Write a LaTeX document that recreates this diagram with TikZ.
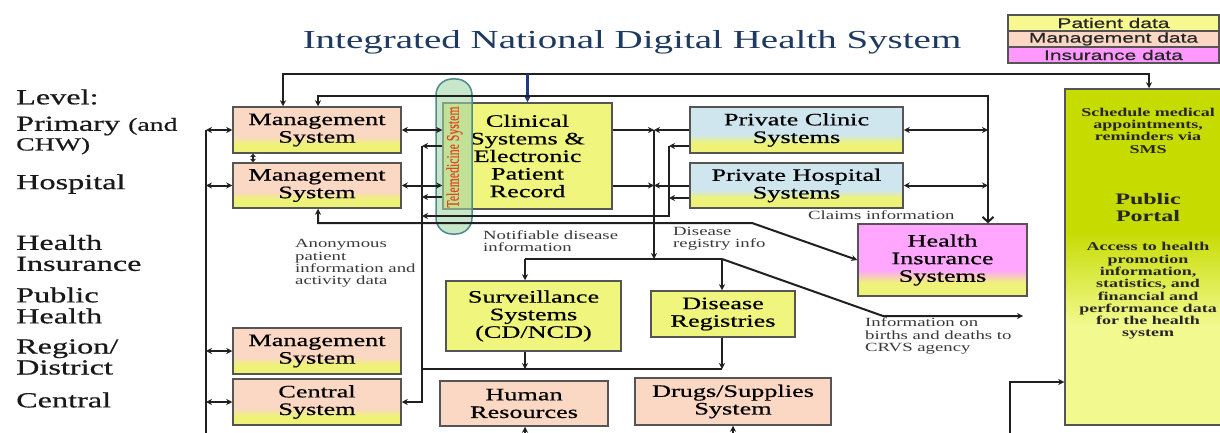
\documentclass[tikz,border=0pt]{standalone}
\usepackage{fontspec}
\usepackage{graphicx}
\setmainfont{Liberation Serif}[FakeStretch=1.5]
\newfontfamily\heavyserif{Liberation Serif}[FakeStretch=1.5, FakeBold=0.6]
\newfontfamily\plainserif{Liberation Serif}[FakeBold=0.4]
\newfontfamily\legendfont{Liberation Sans}[FakeStretch=1.5, FakeBold=0.6]
\usetikzlibrary{arrows.meta,calc}
\definecolor{lineclr}{HTML}{202020}
\definecolor{boxborder}{HTML}{555555}
\definecolor{peach}{HTML}{FBD8C3}
\definecolor{ylw}{HTML}{EEF378}
\definecolor{clinylw}{HTML}{F0F57E}
\definecolor{pblue}{HTML}{CFE6EE}
\definecolor{pink}{HTML}{FFA6FF}
\definecolor{portalgreen}{HTML}{C6DB00}
\definecolor{portallight}{HTML}{F2F98E}
\definecolor{legylw}{HTML}{F8F890}
\definecolor{legpeach}{HTML}{FCD8C4}
\definecolor{legpink}{HTML}{FF99FF}
\definecolor{telegreen}{HTML}{A3D6A6}
\definecolor{teleborder}{HTML}{4E8B8E}
\definecolor{telered}{HTML}{E5431C}
\definecolor{titleblue}{HTML}{1F3A60}
\definecolor{arrowblue}{HTML}{1F3A80}
\definecolor{lbltext}{HTML}{383838}
\pgfdeclareverticalshading{mgmtsh}{100bp}{color(0bp)=(ylw); color(35bp)=(ylw); color(43bp)=(peach); color(100bp)=(peach)}
\pgfdeclareverticalshading{privsh}{100bp}{color(0bp)=(ylw); color(36bp)=(ylw); color(45bp)=(pblue); color(100bp)=(pblue)}
\pgfdeclareverticalshading{insh}{100bp}{color(0bp)=(ylw); color(34bp)=(ylw); color(43bp)=(pink); color(100bp)=(pink)}
\pgfdeclareverticalshading{portsh}{100bp}{color(0bp)=(portallight); color(40bp)=(portallight); color(54bp)=(portalgreen); color(100bp)=(portalgreen)}
\newcommand\boxfnt{\heavyserif\fontsize{17.5}{17.6}\selectfont}
\newcommand\lvlfnt{\heavyserif\fontsize{21.5}{21}\selectfont}
\newcommand\smallfnt{\fontsize{18.5}{19}\selectfont}
\newcommand\lblfnt{\fontsize{12.5}{12.2}\selectfont}
\newcommand\ptxtfnt{\fontsize{12}{12.3}\selectfont\bfseries}
\tikzset{
  box/.style={draw=boxborder, line width=1.5pt, inner sep=0pt, align=center, font=\boxfnt, text=black},
  mgmt/.style={box, shading=mgmtsh},
  priv/.style={box, shading=privsh},
  ins/.style={box, shading=insh},
  clinbox/.style={box, fill=clinylw},
  peachbox/.style={box, fill=peach},
  lvl/.style={font=\lvlfnt, text=black!90, inner sep=0pt, anchor=west, align=left},
  lbl/.style={font=\lblfnt, text=lbltext, inner sep=0pt, anchor=west, align=left},
  ptxt/.style={font=\ptxtfnt, text=black!85, inner sep=0pt, align=center},
  legrow/.style={draw=boxborder, line width=1.2pt, minimum width=211pt, minimum height=16pt, inner sep=0pt, font=\legendfont\fontsize{14}{14}\selectfont, text=black!85},
  conn/.style={draw=lineclr, line width=2pt},
  ar/.style={conn, -{Stealth[length=6pt,width=6pt]}},
  dar/.style={conn, {Stealth[length=6pt,width=6pt]}-{Stealth[length=6pt,width=6pt]}},
  sdar/.style={conn, {Stealth[length=3.5pt,width=6pt]}-{Stealth[length=3.5pt,width=6pt]}}
}
\begin{document}
\begin{tikzpicture}[x=1pt, y=-1pt]
\useasboundingbox (0,0) rectangle (1220,433);

% title and legend
\node[font=\fontsize{26}{26}\selectfont, text=titleblue, inner sep=0pt] (title) at (632,42) {Integrated National Digital Health System};
\node[legrow, fill=legylw] (leg1) at (1113.5,23) {Patient data};
\node[legrow, fill=legpeach] (leg2) at (1113.5,39) {Management data};
\node[legrow, fill=legpink] (leg3) at (1113.5,55) {Insurance data};

% level labels
\node[lvl] (lv0) at (16,97) {Level:};
\node[lvl] (lv1) at (16,126) {Primary {\smallfnt(and}};
\node[lvl] (lv1b) at (16,146) {\smallfnt CHW)};
\node[lvl] (lv2) at (16,184) {Hospital};
\node[lvl] (lv3) at (16,253) {Health\\Insurance};
\node[lvl] (lv4) at (16,305.5) {Public\\Health};
\node[lvl] (lv5) at (16,357) {Region/\\District};
\node[lvl] (lv6) at (16,400) {Central};

% boxes
\node[mgmt, minimum width=168pt, minimum height=46pt] (mg1) at (317,130) {Management\\System};
\node[mgmt, minimum width=168pt, minimum height=45pt] (mg2) at (317,185.5) {Management\\System};
\node[clinbox, minimum width=169pt, minimum height=106pt] (clin) at (527.5,156) {Clinical\\Systems \&\\Electronic\\Patient\\Record};
\node[draw=teleborder, line width=1.5pt, fill=telegreen, fill opacity=0.6, rounded corners=16pt, minimum width=36pt, minimum height=155pt, inner sep=0pt] (tele) at (454,156.5) {};
\node[rotate=90, inner sep=0pt, text=telered, font=\plainserif\fontsize{11.8}{12}\selectfont] (teletxt) at (454.5,157) {\scalebox{1}[1.5]{Telemedicine System}};
\node[priv, minimum width=213pt, minimum height=46pt] (pc) at (796.5,130) {Private Clinic\\Systems};
\node[priv, minimum width=213pt, minimum height=45pt] (ph) at (796.5,185.5) {Private Hospital\\Systems};
\node[ins, minimum width=169pt, minimum height=72pt] (hi) at (942.5,260) {Health\\Insurance\\Systems};
\node[draw=boxborder, line width=1.5pt, shading=portsh, minimum width=165pt, minimum height=336pt, inner sep=0pt] (portal) at (1147.5,257) {};
\node[clinbox, minimum width=175pt, minimum height=70pt] (surv) at (533.5,316) {Surveillance\\Systems\\(CD/NCD)};
\node[clinbox, minimum width=144pt, minimum height=46pt] (reg) at (723,314) {Disease\\Registries};
\node[mgmt, minimum width=168pt, minimum height=46pt] (mg3) at (317,351) {Management\\System};
\node[mgmt, minimum width=168pt, minimum height=46pt] (cen) at (317,402) {Central\\System};
\node[peachbox, minimum width=168pt, minimum height=45pt] (hr) at (524,403.5) {Human\\Resources};
\node[peachbox, minimum width=196pt, minimum height=47pt] (drugs) at (733,401.5) {Drugs/Supplies\\System};

% portal texts
\node[ptxt] (pt1) at (1148,130.5) {Schedule medical\\appointments,\\reminders via\\SMS};
\node[ptxt, font=\fontsize{16}{17}\selectfont\bfseries] (pt2) at (1148,207.5) {Public\\Portal};
\node[ptxt] (pt3) at (1148,291) {Access to health\\promotion\\information,\\statistics, and\\financial and\\performance data\\for the health\\system};

% small labels
\node[lbl] (l1) at (295,263.5) {Anonymous\\patient\\information and\\activity data};
\node[lbl] (l2) at (483,241.5) {Notifiable disease\\information};
\node[lbl] (l3) at (673,239) {Disease\\registry info};
\node[lbl] (l4) at (808,215) {Claims information};
\node[lbl] (l5) at (865,336) {Information on\\births and deaths to\\CRVS agency};

% coordinates
\coordinate (lb1) at (206,130);
\coordinate (lb2) at (206,445);
\coordinate (a1) at (283,74);
\coordinate (a2) at (1149,74);
\coordinate (b1) at (318,96);
\coordinate (b2) at (988,96);
\coordinate (v1t) at (422,146);
\coordinate (v1m) at (422,197);
\coordinate (v1b) at (422,402);
\coordinate (v2t) at (654,130);
\coordinate (v2b) at (654,259);
\coordinate (h1) at (525,259);
\coordinate (h2) at (722,259);
\coordinate (d1) at (883,316);
\coordinate (d2) at (1023,316);
\coordinate (v3t) at (669,146);
\coordinate (v3m) at (669,198);
\coordinate (v3b) at (669,216);
\coordinate (c1) at (318,223);
\coordinate (c2) at (752,223);
\coordinate (e1) at (422,369);
\coordinate (e2) at (722,369);
\coordinate (hrb) at (525,445);
\coordinate (drb) at (733,445);
\coordinate (pb) at (1010,445);
\coordinate (pp) at (1010,382);
\coordinate (mm) at (253,0);

% left bus
\draw[conn] (lb1) -- (lb2);
\draw[dar] (lb1) -- (mg1.west);
\draw[dar] (mg2.west -| lb1) -- (mg2.west);
\draw[dar] (mg3.west -| lb1) -- (mg3.west);
\draw[dar] (cen.west -| lb1) -- (cen.west);
\draw[sdar] (mg1.south -| mm) -- (mg2.north -| mm);

% top lines
\draw[dar] (mg1.north -| a1) -- (a1) -- (a2) -- (portal.north -| a2);
\draw[conn, draw=arrowblue, line width=2.4pt, -{Stealth[length=7pt,width=7pt]}] (clin.north |- a1) -- (clin.north);
\draw[conn, {Stealth[length=6pt,width=6pt]}-{Straight Barb[length=5pt,width=11pt]}] (mg1.north -| b1) -- (b1) -- (b2) -- (hi.north -| b2);
\draw[dar] (pc.east) -- (pc.east -| b2);
\draw[dar] (ph.east) -- (ph.east -| b2);

% management <-> clinical
\draw[dar] (mg1.east) -- (clin.west |- mg1.east);
\draw[dar] (mg2.east) -- (clin.west |- mg2.east);

% anonymous data bus
\draw[ar] (clin.west |- v1t) -- (v1t);
\draw[ar] (clin.west |- v1m) -- (v1m);
\draw[ar] (v1t) -- (v1b) -- (cen.east);
\draw[ar] (pc.west |- v3t) -- (v3t);
\draw[ar] (ph.west |- v3m) -- (v3m);
\draw[ar] (v3t) -- (v3b) -- (v3b -| v1t);

% disease info
\draw[ar] (clin.east |- v2t) -- (v2t);
\draw[ar] (pc.west) -- (v2t);
\draw[ar] (clin.east |- ph.west) -- (ph.west -| v2t);
\draw[ar] (ph.west) -- (ph.west -| v2t);
\draw[ar] (v2t) -- (v2b);
\draw[conn] (h1) -- (h2);
\draw[ar] (h1) -- (h1 |- surv.north);
\draw[ar] (h2) -- (h2 |- reg.north);
\draw[ar] (h2) -- (d1) -- (d2);

% claims line
\draw[dar] (mg2.south -| c1) -- (c1) -- (c2) -- (hi.west);

% surveillance/registries to central
\draw[conn] (e1) -- (e2);
\draw[ar] (surv.south -| h1) -- (h1 |- e1);
\draw[ar] (reg.south -| h2) -- (h2 |- e1);

% bottom inputs
\draw[ar] (hrb) -- (hr.south -| hrb);
\draw[ar] (drb) -- (drugs.south -| drb);
\draw[ar] (pb) -- (pp) -- (portal.west |- pp);
\end{tikzpicture}
\end{document}
